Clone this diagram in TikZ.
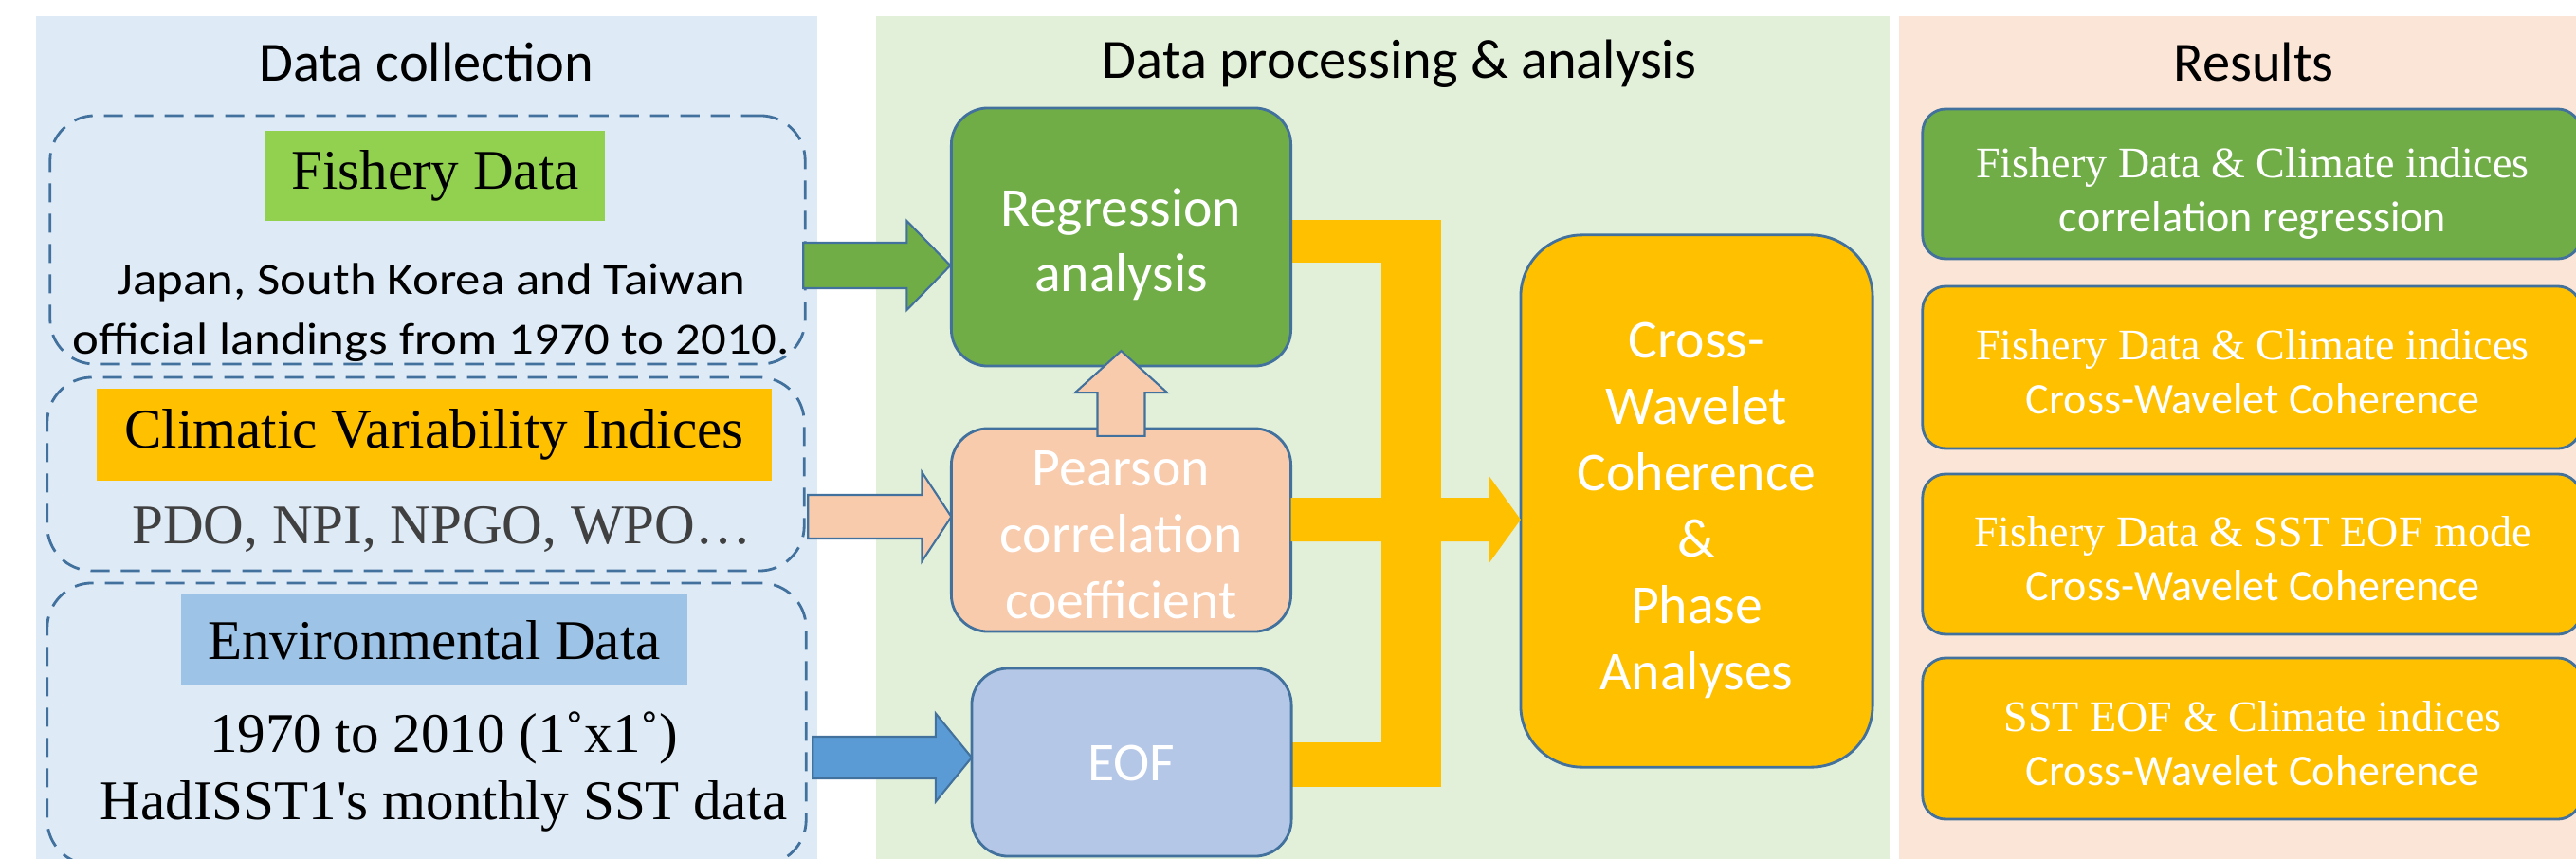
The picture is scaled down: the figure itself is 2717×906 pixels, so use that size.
\documentclass[tikz,border=0pt]{standalone}
\usepackage{fontspec}
\setmainfont{Liberation Serif}
\newfontfamily\crlt{Carlito}
\newfontfamily\crltwide[FakeStretch=1.12]{Carlito}
\newfontfamily\tms{Liberation Serif}
\usetikzlibrary{calc}

\pgfdeclarelayer{bottom}
\pgfdeclarelayer{back}
\pgfsetlayers{bottom,back,main}

\definecolor{bgblue}{HTML}{DEEBF7}
\definecolor{bggreen}{HTML}{E2F0D9}
\definecolor{bgpeach}{HTML}{FBE5D6}
\definecolor{outl}{HTML}{41719C}
\definecolor{grn}{HTML}{70AD47}
\definecolor{lgrn}{HTML}{92D050}
\definecolor{gold}{HTML}{FFC000}
\definecolor{peach}{HTML}{F8CBAD}
\definecolor{skyblue}{HTML}{9DC3E6}
\definecolor{eofblue}{HTML}{B4C7E7}
\definecolor{arrblue}{HTML}{5B9BD5}
\definecolor{txtgray}{HTML}{404040}

\newcommand\ttlfont{\crlt\fontsize{16.6}{20}\selectfont}
\newcommand\procfont{\crlt\fontsize{16.4}{19.9}\selectfont}
\newcommand\srcfont{\crltwide\fontsize{13.4}{17.9}\selectfont}
\newcommand\tagfont{\tms\fontsize{16.8}{20.2}\selectfont}
\newcommand\resT{\tms\fontsize{13.1}{15.2}\selectfont}
\newcommand\resC{\crlt\fontsize{13.1}{15.2}\selectfont}

% right-pointing block arrow: style, tail, tip, shaft half, head half, head length
\newcommand\harrow[6]{%
  \draw[#1] ($(#2 |- #3)+(0,-#4)$) -- ($(#3)+(-#6,-#4)$) -- ($(#3)+(-#6,-#5)$) -- (#3)
    -- ($(#3)+(-#6,#5)$) -- ($(#3)+(-#6,#4)$) -- ($(#2 |- #3)+(0,#4)$) -- cycle;}
% upward block arrow: style, tail, tip, shaft half, head half, head length
\newcommand\varrow[6]{%
  \draw[#1] ($(#3 |- #2)+(-#4,0)$) -- ($(#3)+(-#4,#6)$) -- ($(#3)+(-#5,#6)$) -- (#3)
    -- ($(#3)+(#5,#6)$) -- ($(#3)+(#4,#6)$) -- ($(#3 |- #2)+(#4,0)$) -- cycle;}

\tikzset{
  panelbg/.style={fill=#1, inner sep=0, outer sep=0},
  dbox/.style={draw=outl, line width=0.8pt, dash pattern=on 5.7pt off 3.4pt,
    rounded corners=13.5pt, inner sep=0, outer sep=0},
  srclabel/.style={fill=#1, inner sep=0, outer sep=0, font=\tagfont},
  procbox/.style={fill=#1, draw=outl, line width=0.8pt, rounded corners=11pt,
    inner sep=0, outer sep=0},
  proctext/.style={text=white, align=center, inner sep=0, font=\procfont},
  resbox/.style={fill=#1, draw=outl, line width=0.8pt, rounded corners=7pt,
    inner sep=0, outer sep=0, minimum width=6.94cm},
  restext/.style={text=white, align=center, inner sep=0},
  ttl/.style={anchor=base, font=\ttlfont},
  blockarrow/.style={fill=#1, draw=outl, line width=0.6pt},
}

\begin{document}
\begin{tikzpicture}[x=0.01cm, y=-0.01cm]
\useasboundingbox (0,0) rectangle (2717,906);
\clip (0,0) rectangle (2717,906);

% column backgrounds
\begin{pgfonlayer}{bottom}
\fill[white] (0,0) rectangle (2717,906);
\node[panelbg=bgblue, minimum width=8.24cm, minimum height=8.89cm] (colA) at (450,461.5) {};
\node[panelbg=bggreen, minimum width=10.69cm, minimum height=8.89cm] (colB) at (1458.5,461.5) {};
\node[panelbg=bgpeach, minimum width=7.27cm, minimum height=8.89cm] (colC) at (2366.5,461.5) {};
\end{pgfonlayer}

% column titles
\node[ttl] (tA) at (450,85) {Data collection};
\node[ttl] (tB) at (1476,83) {Data processing \& analysis};
\node[ttl] (tC) at (2377,85) {Results};

% data sources
\node[dbox, minimum width=7.96cm, minimum height=2.62cm] (d1) at (451,253) {};
\node[dbox, minimum width=7.98cm, minimum height=2.04cm] (d2) at (449,500) {};
\node[dbox, minimum width=8.00cm, minimum height=2.97cm] (d3) at (450,763.5) {};

\node[srclabel=lgrn, minimum width=3.58cm, minimum height=0.95cm] (fish) at (459,185.5) {Fishery Data};
\node[align=center, font=\srcfont, inner sep=0] (fishtxt) at (455,329)
  {\strut Japan, South Korea and Taiwan\\\strut official landings from 1970 to 2010.};

\node[srclabel=gold, minimum width=7.12cm, minimum height=0.97cm] (clim) at (458,458.5) {Climatic Variability Indices};
\node[anchor=base, font=\tagfont, text=txtgray, inner sep=0] (climtxt) at (466,573) {PDO, NPI, NPGO, WPO…};

\node[srclabel=skyblue, minimum width=5.34cm, minimum height=0.96cm] (env) at (458,675) {Environmental Data};
\node[align=center, font=\tagfont, inner sep=0] (envtxt) at (468,815)
  {\strut 1970 to 2010 (1˚x1˚)\\\strut HadISST1's monthly SST data};

% processing boxes
\node[procbox=grn, minimum width=3.58cm, minimum height=2.72cm] (reg) at (1182.5,250) {};
\node[procbox=peach, minimum width=3.58cm, minimum height=2.14cm] (pear) at (1182.5,559) {};
\node[procbox=eofblue, minimum width=3.37cm, minimum height=1.98cm] (eof) at (1193.5,804) {};
\node[procbox=gold, rounded corners=18.5pt, minimum width=3.71cm, minimum height=5.61cm] (cw) at (1789.5,528.5) {};

\node[proctext] (regtxt) at ($(reg.center)+(0,9)$) {\strut Regression\\\strut analysis};
\node[proctext] (peartxt) at ($(pear.center)+(0,9.5)$) {\strut Pearson\\\strut correlation\\\strut coefficient};
\node[proctext, anchor=base] (eoftxt) at ($(eof.center)+(0,19)$) {EOF};
\node[proctext] (cwtxt) at ($(cw.center)+(0,10)$)
  {\strut Cross-\\\strut Wavelet\\\strut Coherence\\\strut \&\\\strut Phase\\\strut Analyses};

% yellow collector bars, kept under the boxes
\begin{pgfonlayer}{back}
\fill[gold] ($(reg.east)+(0,-18)$) rectangle ($(reg.east)+(158,27)$);
\fill[gold] ($(reg.east)+(95,-18)$) rectangle ($(eof.east)+(158,26)$);
\fill[gold] ($(eof.east)+(0,-21)$) rectangle ($(eof.east)+(158,26)$);
\end{pgfonlayer}

% results
\node[resbox=grn, minimum height=1.58cm] (r1) at (2375,194) {};
\node[resbox=gold, minimum height=1.71cm] (r2) at (2375,387.5) {};
\node[resbox=gold, minimum height=1.69cm] (r3) at (2375,584.5) {};
\node[resbox=gold, minimum height=1.70cm] (r4) at (2375,779) {};

\node[restext] (r1txt) at ($(r1.center)+(1,11)$)
  {\resT\strut Fishery Data \& Climate indices\\\resC\strut correlation regression};
\node[restext] (r2txt) at ($(r2.center)+(1,10)$)
  {\resT\strut Fishery Data \& Climate indices\\\resC\strut Cross-Wavelet Coherence};
\node[restext] (r3txt) at ($(r3.center)+(1,10)$)
  {\resT\strut Fishery Data \& SST EOF mode\\\resC\strut Cross-Wavelet Coherence};
\node[restext] (r4txt) at ($(r4.center)+(1,10)$)
  {\resT\strut SST EOF \& Climate indices\\\resC\strut Cross-Wavelet Coherence};

% block arrows
\coordinate (gtail) at ($(d1.east)+(-2,0)$);
\coordinate (gtip) at ($(reg.west)+(-1,30)$);
\harrow{blockarrow=grn}{gtail}{gtip}{24}{47}{46}

\coordinate (ptail) at ($(d2.east)+(4,0)$);
\coordinate (ptip) at ($(pear.west)+(0,-14)$);
\harrow{blockarrow=peach}{ptail}{ptip}{23}{47}{31}

\coordinate (btail) at ($(d3.east)+(7,0)$);
\coordinate (btip) at ($(eof.west)+(0,-5)$);
\harrow{blockarrow=arrblue}{btail}{btip}{22}{46.5}{38}

\coordinate (utail) at ($(pear.north)+(0,8)$);
\coordinate (utip) at ($(reg.south)+(0,-16)$);
\varrow{blockarrow=peach}{utail}{utip}{25}{48.5}{44}

\coordinate (ytail) at (pear.east);
\coordinate (ytip) at ($(cw.west)+(0,19.5)$);
\harrow{fill=gold, draw=none}{ytail}{ytip}{23}{45.5}{33}
\end{tikzpicture}
\end{document}
